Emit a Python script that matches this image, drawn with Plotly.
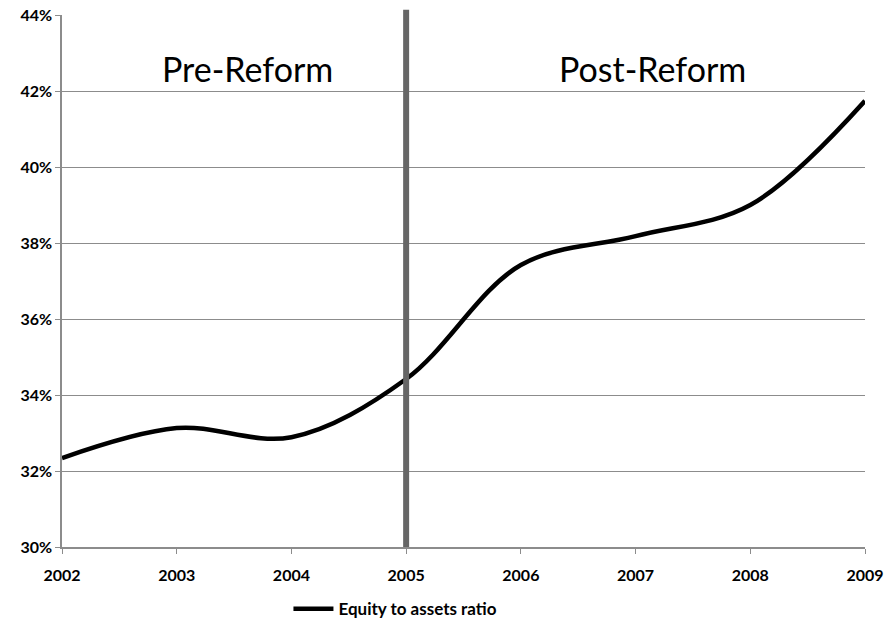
import plotly.graph_objects as go

years = [2002, 2003, 2004, 2005, 2006, 2007, 2008, 2009]
equity_to_assets = [0.3234, 0.3313, 0.3289, 0.3442, 0.3742, 0.3818, 0.3900, 0.4174]
reform_year = 2005
y_ticks = [0.30, 0.32, 0.34, 0.36, 0.38, 0.40, 0.42, 0.44]
series_name = "Equity to assets ratio"
period_labels = ["Pre-Reform", "Post-Reform"]
period_label_x = [2003.62, 2007.15]

fig = go.Figure()
fig.add_trace(go.Scatter(
    x=years, y=equity_to_assets, mode="lines", name=series_name,
    line=dict(color="black", width=4.5, shape="spline", smoothing=1.0),
))

fig.add_shape(type="line", x0=reform_year, x1=reform_year, xref="x", yref="paper",
              y0=0, y1=1.01, line=dict(color="#666666", width=6), layer="above")

for lbl, lx in zip(period_labels, period_label_x):
    fig.add_annotation(x=lx, y=0.426, xref="x", yref="y", text=lbl, showarrow=False,
                       font=dict(family="Lato, Open Sans, sans-serif", size=34, color="black"))

fig.update_layout(
    width=889, height=624,
    margin=dict(l=62, r=24, t=15, b=77, autoexpand=False),
    paper_bgcolor="white", plot_bgcolor="white",
    font=dict(family="Lato, Open Sans, sans-serif", color="black"),
    showlegend=True,
    legend=dict(orientation="h", x=0.282, xanchor="left", y=-0.117, yanchor="middle",
                font=dict(size=17, family="Lato, sans-serif", weight="bold"),
                bgcolor="rgba(0,0,0,0)", itemwidth=40),
)
fig.update_xaxes(range=[2002, 2009], tickvals=years, ticktext=[str(y) for y in years],
                 showgrid=False, showline=True, linecolor="#8c8c8c", linewidth=1.5,
                 ticks="outside", ticklen=5, tickcolor="#8c8c8c", zeroline=False,
                 ticklabelstandoff=8,
                 automargin=False, tickfont=dict(size=16, weight="bold"))
fig.update_yaxes(range=[0.30, 0.44], tickvals=y_ticks, tickformat=".0%",
                 showgrid=True, gridcolor="#8c8c8c", gridwidth=1,
                 showline=True, linecolor="#8c8c8c", linewidth=1.5,
                 ticks="outside", ticklen=5, tickcolor="#8c8c8c", zeroline=False,
                 automargin=False, tickfont=dict(size=16, weight="bold"))

fig.write_html("out.html")
